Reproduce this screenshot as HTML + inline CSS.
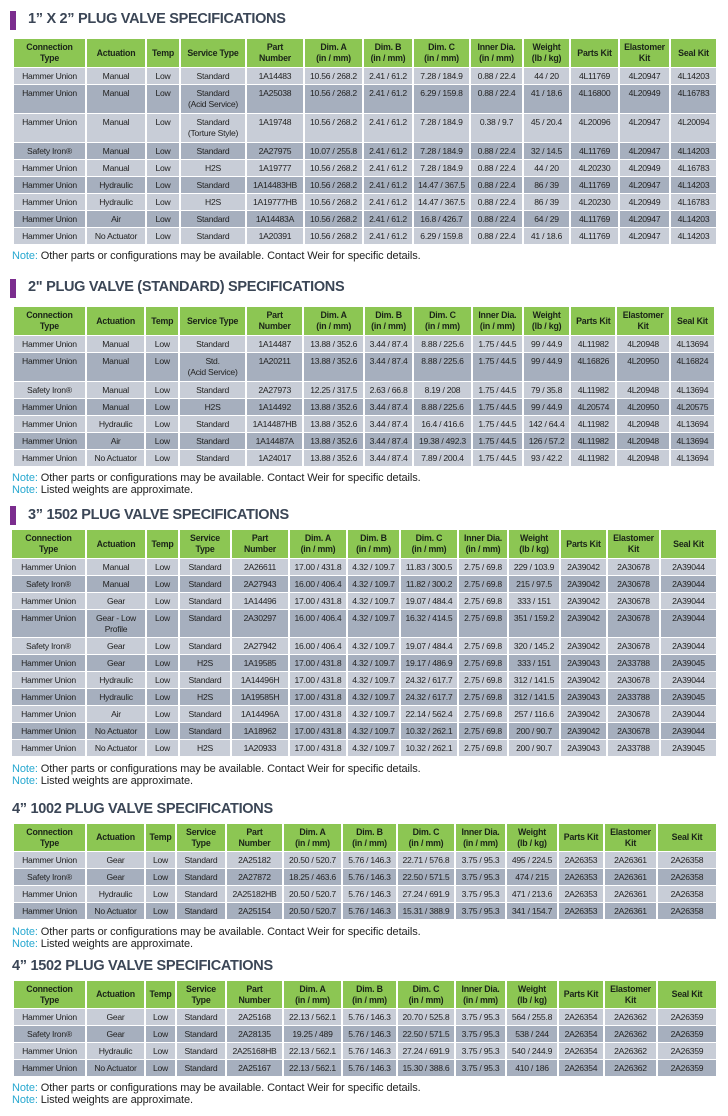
<!DOCTYPE html>
<html><head><meta charset="utf-8"><style>
*{margin:0;padding:0;box-sizing:border-box}
body{width:728px;height:1116px;background:#fff;position:relative;overflow:hidden;font-family:"Liberation Sans",sans-serif;color:#222}
.t{position:absolute;font-family:"Liberation Sans",sans-serif;font-weight:bold;font-size:14.5px;color:#3b4656;white-space:nowrap;letter-spacing:-0.3px}
.bar{position:absolute;left:10px;width:6px;height:19px;background:#7b2d8e}
table{position:absolute;border-collapse:collapse;table-layout:fixed}
td,th{border-left:2px solid #fff;border-right:2px solid #fff;border-top:1px solid #fff;border-bottom:1px solid #fff;text-align:center;vertical-align:top;font-size:8.6px;line-height:11px;padding-top:3px;white-space:nowrap;overflow:hidden;letter-spacing:-0.25px}
th{background:#8cc653;font-weight:bold;vertical-align:middle;padding-top:0;color:#1a2418;font-size:8.8px;letter-spacing:-0.2px}
tr.l td{background:#c8cdd7}
tr.d td{background:#a6afbe}
.n{position:absolute;left:12px;font-family:"Liberation Sans",sans-serif;font-size:11px;color:#222;white-space:nowrap;letter-spacing:-0.1px}
.n b{font-weight:normal;color:#27a8d0}
</style></head><body>

<div class="bar" style="top:11px"></div>
<div class="t" style="left:28px;top:11px">1” X 2” PLUG VALVE SPECIFICATIONS</div>
<table style="left:12px;top:38px;width:704px">
<colgroup><col style="width:73px"><col style="width:60px"><col style="width:34px"><col style="width:66px"><col style="width:58px"><col style="width:59px"><col style="width:50px"><col style="width:57px"><col style="width:53px"><col style="width:47px"><col style="width:49px"><col style="width:51px"><col style="width:47px"></colgroup>
<tr style="height:29px"><th>Connection<br>Type</th><th>Actuation</th><th>Temp</th><th>Service Type</th><th>Part<br>Number</th><th>Dim. A<br>(in / mm)</th><th>Dim. B<br>(in / mm)</th><th>Dim. C<br>(in / mm)</th><th>Inner Dia.<br>(in / mm)</th><th>Weight<br>(lb / kg)</th><th>Parts Kit</th><th>Elastomer<br>Kit</th><th>Seal Kit</th></tr>
<tr class="l" style="height:17px"><td>Hammer Union</td><td>Manual</td><td>Low</td><td>Standard</td><td>1A14483</td><td>10.56 / 268.2</td><td>2.41 / 61.2</td><td>7.28 / 184.9</td><td>0.88 / 22.4</td><td>44 / 20</td><td>4L11769</td><td>4L20947</td><td>4L14203</td></tr>
<tr class="d" style="height:29px"><td>Hammer Union</td><td>Manual</td><td>Low</td><td>Standard<br>(Acid Service)</td><td>1A25038</td><td>10.56 / 268.2</td><td>2.41 / 61.2</td><td>6.29 / 159.8</td><td>0.88 / 22.4</td><td>41 / 18.6</td><td>4L16800</td><td>4L20949</td><td>4L16783</td></tr>
<tr class="l" style="height:29px"><td>Hammer Union</td><td>Manual</td><td>Low</td><td>Standard<br>(Torture Style)</td><td>1A19748</td><td>10.56 / 268.2</td><td>2.41 / 61.2</td><td>7.28 / 184.9</td><td>0.38 / 9.7</td><td>45 / 20.4</td><td>4L20096</td><td>4L20947</td><td>4L20094</td></tr>
<tr class="d" style="height:17px"><td>Safety Iron®</td><td>Manual</td><td>Low</td><td>Standard</td><td>2A27975</td><td>10.07 / 255.8</td><td>2.41 / 61.2</td><td>7.28 / 184.9</td><td>0.88 / 22.4</td><td>32 / 14.5</td><td>4L11769</td><td>4L20947</td><td>4L14203</td></tr>
<tr class="l" style="height:17px"><td>Hammer Union</td><td>Manual</td><td>Low</td><td>H2S</td><td>1A19777</td><td>10.56 / 268.2</td><td>2.41 / 61.2</td><td>7.28 / 184.9</td><td>0.88 / 22.4</td><td>44 / 20</td><td>4L20230</td><td>4L20949</td><td>4L16783</td></tr>
<tr class="d" style="height:17px"><td>Hammer Union</td><td>Hydraulic</td><td>Low</td><td>Standard</td><td>1A14483HB</td><td>10.56 / 268.2</td><td>2.41 / 61.2</td><td>14.47 / 367.5</td><td>0.88 / 22.4</td><td>86 / 39</td><td>4L11769</td><td>4L20947</td><td>4L14203</td></tr>
<tr class="l" style="height:17px"><td>Hammer Union</td><td>Hydraulic</td><td>Low</td><td>H2S</td><td>1A19777HB</td><td>10.56 / 268.2</td><td>2.41 / 61.2</td><td>14.47 / 367.5</td><td>0.88 / 22.4</td><td>86 / 39</td><td>4L20230</td><td>4L20949</td><td>4L16783</td></tr>
<tr class="d" style="height:17px"><td>Hammer Union</td><td>Air</td><td>Low</td><td>Standard</td><td>1A14483A</td><td>10.56 / 268.2</td><td>2.41 / 61.2</td><td>16.8 / 426.7</td><td>0.88 / 22.4</td><td>64 / 29</td><td>4L11769</td><td>4L20947</td><td>4L14203</td></tr>
<tr class="l" style="height:17px"><td>Hammer Union</td><td>No Actuator</td><td>Low</td><td>Standard</td><td>1A20391</td><td>10.56 / 268.2</td><td>2.41 / 61.2</td><td>6.29 / 159.8</td><td>0.88 / 22.4</td><td>41 / 18.6</td><td>4L11769</td><td>4L20947</td><td>4L14203</td></tr>
</table>
<div class="n" style="top:250px"><b>Note:</b> Other parts or configurations may be available. Contact Weir for specific details.</div>

<div class="bar" style="top:279px"></div>
<div class="t" style="left:28px;top:279px">2" PLUG VALVE (STANDARD) SPECIFICATIONS</div>
<table style="left:12px;top:306px;width:704px">
<colgroup><col style="width:71px"><col style="width:58px"><col style="width:33px"><col style="width:65px"><col style="width:56px"><col style="width:59px"><col style="width:48px"><col style="width:57px"><col style="width:50px"><col style="width:46px"><col style="width:45px"><col style="width:52px"><col style="width:44px"></colgroup>
<tr style="height:29px"><th>Connection<br>Type</th><th>Actuation</th><th>Temp</th><th>Service Type</th><th>Part<br>Number</th><th>Dim. A<br>(in / mm)</th><th>Dim. B<br>(in / mm)</th><th>Dim. C<br>(in / mm)</th><th>Inner Dia.<br>(in / mm)</th><th>Weight<br>(lb / kg)</th><th>Parts Kit</th><th>Elastomer<br>Kit</th><th>Seal Kit</th></tr>
<tr class="l" style="height:17px"><td>Hammer Union</td><td>Manual</td><td>Low</td><td>Standard</td><td>1A14487</td><td>13.88 / 352.6</td><td>3.44 / 87.4</td><td>8.88 / 225.6</td><td>1.75 / 44.5</td><td>99 / 44.9</td><td>4L11982</td><td>4L20948</td><td>4L13694</td></tr>
<tr class="d" style="height:29px"><td>Hammer Union</td><td>Manual</td><td>Low</td><td>Std.<br>(Acid Service)</td><td>1A20211</td><td>13.88 / 352.6</td><td>3.44 / 87.4</td><td>8.88 / 225.6</td><td>1.75 / 44.5</td><td>99 / 44.9</td><td>4L16826</td><td>4L20950</td><td>4L16824</td></tr>
<tr class="l" style="height:17px"><td>Safety Iron®</td><td>Manual</td><td>Low</td><td>Standard</td><td>2A27973</td><td>12.25 / 317.5</td><td>2.63 / 66.8</td><td>8.19 / 208</td><td>1.75 / 44.5</td><td>79 / 35.8</td><td>4L11982</td><td>4L20948</td><td>4L13694</td></tr>
<tr class="d" style="height:17px"><td>Hammer Union</td><td>Manual</td><td>Low</td><td>H2S</td><td>1A14492</td><td>13.88 / 352.6</td><td>3.44 / 87.4</td><td>8.88 / 225.6</td><td>1.75 / 44.5</td><td>99 / 44.9</td><td>4L20574</td><td>4L20950</td><td>4L20575</td></tr>
<tr class="l" style="height:17px"><td>Hammer Union</td><td>Hydraulic</td><td>Low</td><td>Standard</td><td>1A14487HB</td><td>13.88 / 352.6</td><td>3.44 / 87.4</td><td>16.4 / 416.6</td><td>1.75 / 44.5</td><td>142 / 64.4</td><td>4L11982</td><td>4L20948</td><td>4L13694</td></tr>
<tr class="d" style="height:17px"><td>Hammer Union</td><td>Air</td><td>Low</td><td>Standard</td><td>1A14487A</td><td>13.88 / 352.6</td><td>3.44 / 87.4</td><td>19.38 / 492.3</td><td>1.75 / 44.5</td><td>126 / 57.2</td><td>4L11982</td><td>4L20948</td><td>4L13694</td></tr>
<tr class="l" style="height:17px"><td>Hammer Union</td><td>No Actuator</td><td>Low</td><td>Standard</td><td>1A24017</td><td>13.88 / 352.6</td><td>3.44 / 87.4</td><td>7.89 / 200.4</td><td>1.75 / 44.5</td><td>93 / 42.2</td><td>4L11982</td><td>4L20948</td><td>4L13694</td></tr>
</table>
<div class="n" style="top:472px"><b>Note:</b> Other parts or configurations may be available. Contact Weir for specific details.</div>
<div class="n" style="top:484px"><b>Note:</b> Listed weights are approximate.</div>

<div class="bar" style="top:506px"></div>
<div class="t" style="left:28px;top:507px">3” 1502 PLUG VALVE SPECIFICATIONS</div>
<table style="left:10px;top:529px;width:706px">
<colgroup><col style="width:75px"><col style="width:60px"><col style="width:33px"><col style="width:52px"><col style="width:58px"><col style="width:58px"><col style="width:53px"><col style="width:58px"><col style="width:50px"><col style="width:52px"><col style="width:47px"><col style="width:53px"><col style="width:57px"></colgroup>
<tr style="height:29px"><th>Connection<br>Type</th><th>Actuation</th><th>Temp</th><th>Service<br>Type</th><th>Part<br>Number</th><th>Dim. A<br>(in / mm)</th><th>Dim. B<br>(in / mm)</th><th>Dim. C<br>(in / mm)</th><th>Inner Dia.<br>(in / mm)</th><th>Weight<br>(lb / kg)</th><th>Parts Kit</th><th>Elastomer<br>Kit</th><th>Seal Kit</th></tr>
<tr class="l" style="height:17px"><td>Hammer Union</td><td>Manual</td><td>Low</td><td>Standard</td><td>2A26611</td><td>17.00 / 431.8</td><td>4.32 / 109.7</td><td>11.83 / 300.5</td><td>2.75 / 69.8</td><td>229 / 103.9</td><td>2A39042</td><td>2A30678</td><td>2A39044</td></tr>
<tr class="d" style="height:17px"><td>Safety Iron®</td><td>Manual</td><td>Low</td><td>Standard</td><td>2A27943</td><td>16.00 / 406.4</td><td>4.32 / 109.7</td><td>11.82 / 300.2</td><td>2.75 / 69.8</td><td>215 / 97.5</td><td>2A39042</td><td>2A30678</td><td>2A39044</td></tr>
<tr class="l" style="height:17px"><td>Hammer Union</td><td>Gear</td><td>Low</td><td>Standard</td><td>1A14496</td><td>17.00 / 431.8</td><td>4.32 / 109.7</td><td>19.07 / 484.4</td><td>2.75 / 69.8</td><td>333 / 151</td><td>2A39042</td><td>2A30678</td><td>2A39044</td></tr>
<tr class="d" style="height:28px"><td>Hammer Union</td><td>Gear - Low<br>Profile</td><td>Low</td><td>Standard</td><td>2A30297</td><td>16.00 / 406.4</td><td>4.32 / 109.7</td><td>16.32 / 414.5</td><td>2.75 / 69.8</td><td>351 / 159.2</td><td>2A39042</td><td>2A30678</td><td>2A39044</td></tr>
<tr class="l" style="height:17px"><td>Safety Iron®</td><td>Gear</td><td>Low</td><td>Standard</td><td>2A27942</td><td>16.00 / 406.4</td><td>4.32 / 109.7</td><td>19.07 / 484.4</td><td>2.75 / 69.8</td><td>320 / 145.2</td><td>2A39042</td><td>2A30678</td><td>2A39044</td></tr>
<tr class="d" style="height:17px"><td>Hammer Union</td><td>Gear</td><td>Low</td><td>H2S</td><td>1A19585</td><td>17.00 / 431.8</td><td>4.32 / 109.7</td><td>19.17 / 486.9</td><td>2.75 / 69.8</td><td>333 / 151</td><td>2A39043</td><td>2A33788</td><td>2A39045</td></tr>
<tr class="l" style="height:17px"><td>Hammer Union</td><td>Hydraulic</td><td>Low</td><td>Standard</td><td>1A14496H</td><td>17.00 / 431.8</td><td>4.32 / 109.7</td><td>24.32 / 617.7</td><td>2.75 / 69.8</td><td>312 / 141.5</td><td>2A39042</td><td>2A30678</td><td>2A39044</td></tr>
<tr class="d" style="height:17px"><td>Hammer Union</td><td>Hydraulic</td><td>Low</td><td>H2S</td><td>1A19585H</td><td>17.00 / 431.8</td><td>4.32 / 109.7</td><td>24.32 / 617.7</td><td>2.75 / 69.8</td><td>312 / 141.5</td><td>2A39043</td><td>2A33788</td><td>2A39045</td></tr>
<tr class="l" style="height:17px"><td>Hammer Union</td><td>Air</td><td>Low</td><td>Standard</td><td>1A14496A</td><td>17.00 / 431.8</td><td>4.32 / 109.7</td><td>22.14 / 562.4</td><td>2.75 / 69.8</td><td>257 / 116.6</td><td>2A39042</td><td>2A30678</td><td>2A39044</td></tr>
<tr class="d" style="height:17px"><td>Hammer Union</td><td>No Actuator</td><td>Low</td><td>Standard</td><td>1A18962</td><td>17.00 / 431.8</td><td>4.32 / 109.7</td><td>10.32 / 262.1</td><td>2.75 / 69.8</td><td>200 / 90.7</td><td>2A39042</td><td>2A30678</td><td>2A39044</td></tr>
<tr class="l" style="height:17px"><td>Hammer Union</td><td>No Actuator</td><td>Low</td><td>H2S</td><td>1A20933</td><td>17.00 / 431.8</td><td>4.32 / 109.7</td><td>10.32 / 262.1</td><td>2.75 / 69.8</td><td>200 / 90.7</td><td>2A39043</td><td>2A33788</td><td>2A39045</td></tr>
</table>
<div class="n" style="top:763px"><b>Note:</b> Other parts or configurations may be available. Contact Weir for specific details.</div>
<div class="n" style="top:775px"><b>Note:</b> Listed weights are approximate.</div>

<div class="t" style="left:12px;top:801px">4” 1002 PLUG VALVE SPECIFICATIONS</div>
<table style="left:12px;top:823px;width:704px">
<colgroup><col style="width:73px"><col style="width:59px"><col style="width:31px"><col style="width:50px"><col style="width:57px"><col style="width:59px"><col style="width:55px"><col style="width:58px"><col style="width:51px"><col style="width:52px"><col style="width:46px"><col style="width:53px"><col style="width:60px"></colgroup>
<tr style="height:28px"><th>Connection<br>Type</th><th>Actuation</th><th>Temp</th><th>Service<br>Type</th><th>Part<br>Number</th><th>Dim. A<br>(in / mm)</th><th>Dim. B<br>(in / mm)</th><th>Dim. C<br>(in / mm)</th><th>Inner Dia.<br>(in / mm)</th><th>Weight<br>(lb / kg)</th><th>Parts Kit</th><th>Elastomer<br>Kit</th><th>Seal Kit</th></tr>
<tr class="l" style="height:17px"><td>Hammer Union</td><td>Gear</td><td>Low</td><td>Standard</td><td>2A25182</td><td>20.50 / 520.7</td><td>5.76 / 146.3</td><td>22.71 / 576.8</td><td>3.75 / 95.3</td><td>495 / 224.5</td><td>2A26353</td><td>2A26361</td><td>2A26358</td></tr>
<tr class="d" style="height:17px"><td>Safety Iron®</td><td>Gear</td><td>Low</td><td>Standard</td><td>2A27872</td><td>18.25 / 463.6</td><td>5.76 / 146.3</td><td>22.50 / 571.5</td><td>3.75 / 95.3</td><td>474 / 215</td><td>2A26353</td><td>2A26361</td><td>2A26358</td></tr>
<tr class="l" style="height:17px"><td>Hammer Union</td><td>Hydraulic</td><td>Low</td><td>Standard</td><td>2A25182HB</td><td>20.50 / 520.7</td><td>5.76 / 146.3</td><td>27.24 / 691.9</td><td>3.75 / 95.3</td><td>471 / 213.6</td><td>2A26353</td><td>2A26361</td><td>2A26358</td></tr>
<tr class="d" style="height:17px"><td>Hammer Union</td><td>No Actuator</td><td>Low</td><td>Standard</td><td>2A25154</td><td>20.50 / 520.7</td><td>5.76 / 146.3</td><td>15.31 / 388.9</td><td>3.75 / 95.3</td><td>341 / 154.7</td><td>2A26353</td><td>2A26361</td><td>2A26358</td></tr>
</table>
<div class="n" style="top:926px"><b>Note:</b> Other parts or configurations may be available. Contact Weir for specific details.</div>
<div class="n" style="top:938px"><b>Note:</b> Listed weights are approximate.</div>

<div class="t" style="left:12px;top:958px">4” 1502 PLUG VALVE SPECIFICATIONS</div>
<table style="left:12px;top:980px;width:704px">
<colgroup><col style="width:73px"><col style="width:59px"><col style="width:31px"><col style="width:50px"><col style="width:57px"><col style="width:59px"><col style="width:55px"><col style="width:58px"><col style="width:51px"><col style="width:52px"><col style="width:46px"><col style="width:53px"><col style="width:60px"></colgroup>
<tr style="height:28px"><th>Connection<br>Type</th><th>Actuation</th><th>Temp</th><th>Service<br>Type</th><th>Part<br>Number</th><th>Dim. A<br>(in / mm)</th><th>Dim. B<br>(in / mm)</th><th>Dim. C<br>(in / mm)</th><th>Inner Dia.<br>(in / mm)</th><th>Weight<br>(lb / kg)</th><th>Parts Kit</th><th>Elastomer<br>Kit</th><th>Seal Kit</th></tr>
<tr class="l" style="height:17px"><td>Hammer Union</td><td>Gear</td><td>Low</td><td>Standard</td><td>2A25168</td><td>22.13 / 562.1</td><td>5.76 / 146.3</td><td>20.70 / 525.8</td><td>3.75 / 95.3</td><td>564 / 255.8</td><td>2A26354</td><td>2A26362</td><td>2A26359</td></tr>
<tr class="d" style="height:17px"><td>Safety Iron®</td><td>Gear</td><td>Low</td><td>Standard</td><td>2A28135</td><td>19.25 / 489</td><td>5.76 / 146.3</td><td>22.50 / 571.5</td><td>3.75 / 95.3</td><td>538 / 244</td><td>2A26354</td><td>2A26362</td><td>2A26359</td></tr>
<tr class="l" style="height:17px"><td>Hammer Union</td><td>Hydraulic</td><td>Low</td><td>Standard</td><td>2A25168HB</td><td>22.13 / 562.1</td><td>5.76 / 146.3</td><td>27.24 / 691.9</td><td>3.75 / 95.3</td><td>540 / 244.9</td><td>2A26354</td><td>2A26362</td><td>2A26359</td></tr>
<tr class="d" style="height:17px"><td>Hammer Union</td><td>No Actuator</td><td>Low</td><td>Standard</td><td>2A25167</td><td>22.13 / 562.1</td><td>5.76 / 146.3</td><td>15.30 / 388.6</td><td>3.75 / 95.3</td><td>410 / 186</td><td>2A26354</td><td>2A26362</td><td>2A26359</td></tr>
</table>
<div class="n" style="top:1082px"><b>Note:</b> Other parts or configurations may be available. Contact Weir for specific details.</div>
<div class="n" style="top:1094px"><b>Note:</b> Listed weights are approximate.</div>

</body></html>
